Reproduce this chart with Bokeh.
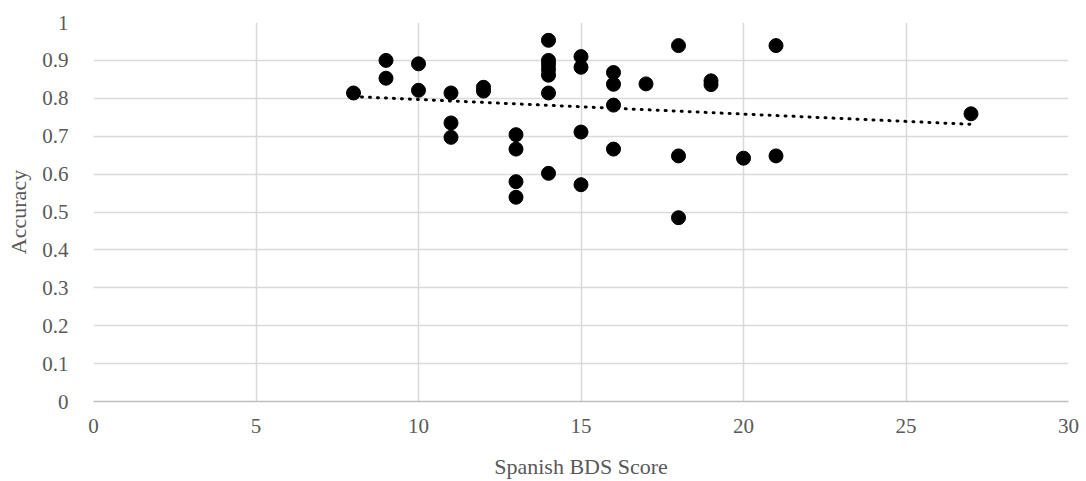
import numpy as np
from bokeh.plotting import figure
from bokeh.models import Range1d, FixedTicker
from bokeh.embed import file_html
from bokeh.resources import INLINE

# Data
bds_score = [8, 9, 9, 10, 10, 11, 11, 11, 12, 12,
             13, 13, 13, 13,
             14, 14, 14, 14, 14, 14, 14,
             15, 15, 15, 15,
             16, 16, 16, 16,
             17, 18, 18, 18, 19, 19, 20, 21, 21, 27]
accuracy = [0.814, 0.900, 0.853, 0.891, 0.821, 0.814, 0.735, 0.697, 0.829, 0.819,
            0.704, 0.666, 0.580, 0.539,
            0.953, 0.900, 0.889, 0.876, 0.861, 0.814, 0.602,
            0.910, 0.882, 0.711, 0.572,
            0.868, 0.837, 0.782, 0.666,
            0.838, 0.939, 0.648, 0.485, 0.846, 0.836, 0.642, 0.939, 0.648, 0.759]

x_ticks = [0, 5, 10, 15, 20, 25, 30]
y_ticks = [0, 0.1, 0.2, 0.3, 0.4, 0.5, 0.6, 0.7, 0.8, 0.9, 1.0]
y_tick_labels = {0: "0", 0.1: "0.1", 0.2: "0.2", 0.3: "0.3", 0.4: "0.4", 0.5: "0.5",
                 0.6: "0.6", 0.7: "0.7", 0.8: "0.8", 0.9: "0.9", 1.0: "1"}

FONT = "Liberation Serif"
TXT = "#595959"
GRID = "#d9d9d9"

p = figure(width=1086, height=481, output_backend="svg", toolbar_location=None,
           x_range=Range1d(0, 30), y_range=Range1d(0, 1),
           min_border_left=93, min_border_right=18, min_border_top=22, min_border_bottom=79)
p.outline_line_color = None
p.background_fill_color = "white"

# grids
p.xgrid.ticker = FixedTicker(ticks=x_ticks)
p.ygrid.ticker = FixedTicker(ticks=y_ticks)
for g in (p.xgrid, p.ygrid):
    g.grid_line_color = GRID
    g.grid_line_width = 1.5

# axes
p.xaxis.ticker = FixedTicker(ticks=x_ticks)
p.yaxis.ticker = FixedTicker(ticks=y_ticks)
p.yaxis.major_label_overrides = y_tick_labels
for ax in (p.xaxis, p.yaxis):
    ax.major_tick_line_color = None
    ax.minor_tick_line_color = None
    ax.major_label_text_font = FONT
    ax.major_label_text_font_size = "21px"
    ax.major_label_text_color = TXT
    ax.axis_label_text_font = FONT
    ax.axis_label_text_font_size = "22px"
    ax.axis_label_text_color = TXT
    ax.axis_label_text_font_style = "normal"
p.xaxis.axis_line_color = "#bfbfbf"
p.xaxis.axis_line_width = 1.5
p.yaxis.axis_line_color = None
p.xaxis.axis_label = "Spanish BDS Score"
p.yaxis.axis_label = "Accuracy"
p.xaxis.major_label_standoff = 11
p.xaxis.axis_label_standoff = 18
p.yaxis.major_label_standoff = 19
p.yaxis.axis_label_standoff = 8

# points
p.scatter(bds_score, accuracy, size=14, color="black")

# linear trendline
slope, intercept = np.polyfit(bds_score, accuracy, 1)
tx = [min(bds_score), max(bds_score)]
ty = [slope * v + intercept for v in tx]
p.line(tx, ty, line_color="black", line_width=3, line_dash="1 7", line_cap="round")

open("out.html", "w").write(file_html(p, INLINE))
